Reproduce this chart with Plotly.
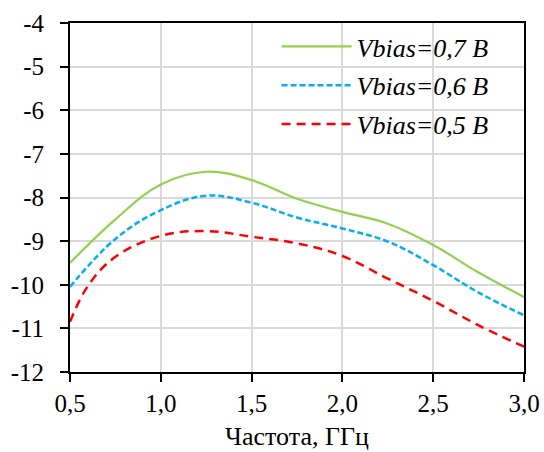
import plotly.graph_objects as go

freq07 = [0.5, 0.75, 1.0, 1.25, 1.5, 1.75, 2.0, 2.25, 2.5, 2.75, 3.0]
v07 = [-9.50, -8.50, -7.70, -7.41, -7.60, -8.03, -8.33, -8.60, -9.09, -9.72, -10.28]
freq06 = [0.5, 0.75, 1.0, 1.25, 1.5, 1.75, 2.0, 2.25, 2.5, 2.75, 3.0]
v06 = [-10.05, -8.95, -8.29, -7.96, -8.12, -8.46, -8.71, -9.01, -9.55, -10.18, -10.70]
freq05 = [0.5, 0.6, 0.75, 1.0, 1.25, 1.5, 1.75, 2.0, 2.25, 2.5, 2.75, 3.0]
v05 = [-10.85, -10.02, -9.36, -8.88, -8.77, -8.90, -9.05, -9.34, -9.86, -10.37, -10.93, -11.42]

names = ["Vbias=0,7 B", "Vbias=0,6 B", "Vbias=0,5 B"]
xticks = [0.5, 1.0, 1.5, 2.0, 2.5, 3.0]
xticktext = ["0,5", "1,0", "1,5", "2,0", "2,5", "3,0"]
yticks = [-4, -5, -6, -7, -8, -9, -10, -11, -12]
yticktext = ["-4", "-5", "-6", "-7", "-8", "-9", "-10", "-11", "-12"]
xtitle = "Частота, ГГц"

FAM = "Liberation Serif"
ftick = dict(family=FAM, size=25, color="black")

fig = go.Figure()
styles = [
    dict(color="#92d050", width=2.2, dash="solid"),
    dict(color="#00b0f0", width=2.5, dash="6px,3px"),
    dict(color="#ff0000", width=2.5, dash="9px,6px"),
]
for i, (xs, vals, nm, st) in enumerate(zip([freq07, freq06, freq05], [v07, v06, v05], names, styles)):
    fig.add_trace(go.Scatter(
        x=xs, y=vals, mode="lines", name="<i>" + nm + "</i>",
        line=dict(shape="spline", smoothing=1.1, **st),
        legendgroup=str(i),
    ))

fig.update_layout(
    width=544, height=452,
    margin=dict(l=70, r=20, t=23, b=80, autoexpand=False),
    paper_bgcolor="white", plot_bgcolor="white",
    font=ftick,
    showlegend=True,
    legend=dict(
        x=0.455, y=1.0, xanchor="left", yanchor="top",
        bgcolor="rgba(0,0,0,0)", borderwidth=0,
        font=dict(family=FAM, size=26, color="black"),
        traceorder="grouped", tracegroupgap=2, itemwidth=70,
    ),
    xaxis=dict(
        range=[0.5, 3.0], tickvals=xticks, ticktext=xticktext,
        tickfont=ftick,
        showgrid=True, gridcolor="#d9d9d9", gridwidth=1.5,
        showline=True, linecolor="black", linewidth=2, mirror=True,
        ticks="outside", ticklen=8, tickwidth=2, tickcolor="black",
        zeroline=False, automargin=False,
        title=dict(text=xtitle, standoff=11, font=dict(family=FAM, size=26, color="black")),
    ),
    yaxis=dict(
        range=[-12, -4], tickvals=yticks, ticktext=yticktext,
        tickfont=ftick, ticklabelstandoff=11,
        showgrid=True, gridcolor="#d9d9d9", gridwidth=1.5,
        showline=True, linecolor="black", linewidth=2, mirror=True,
        ticks="outside", ticklen=8, tickwidth=2, tickcolor="black",
        zeroline=False, automargin=False,
    ),
)

fig.write_html("out.html")
